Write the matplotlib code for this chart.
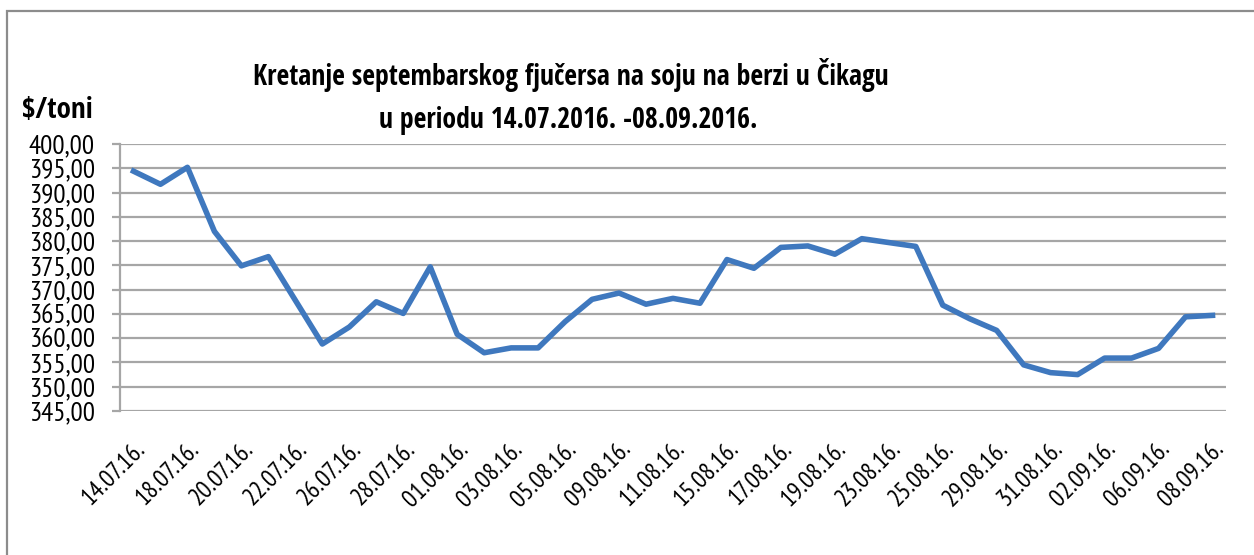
import matplotlib
matplotlib.use("Agg")
import matplotlib.pyplot as plt
from matplotlib.patches import Rectangle

dates = ["14.07.16.", "15.07.16.", "18.07.16.", "19.07.16.", "20.07.16.", "21.07.16.",
         "22.07.16.", "25.07.16.", "26.07.16.", "27.07.16.", "28.07.16.", "29.07.16.",
         "01.08.16.", "02.08.16.", "03.08.16.", "04.08.16.", "05.08.16.", "08.08.16.",
         "09.08.16.", "10.08.16.", "11.08.16.", "12.08.16.", "15.08.16.", "16.08.16.",
         "17.08.16.", "18.08.16.", "19.08.16.", "22.08.16.", "23.08.16.", "24.08.16.",
         "25.08.16.", "26.08.16.", "29.08.16.", "30.08.16.", "31.08.16.", "01.09.16.",
         "02.09.16.", "05.09.16.", "06.09.16.", "07.09.16.", "08.09.16."]
prices = [394.4, 391.7, 395.2, 382.0, 374.9, 376.8, 367.8, 358.8, 362.3, 367.5,
          365.1, 374.7, 360.8, 357.0, 358.0, 358.0, 363.4, 368.0, 369.3, 367.0,
          368.2, 367.2, 376.2, 374.4, 378.7, 379.0, 377.3, 380.5, 379.7, 378.9,
          366.8, 364.0, 361.6, 354.5, 352.9, 352.5, 355.9, 355.9, 357.9, 364.4, 364.7]
yticks = [345, 350, 355, 360, 365, 370, 375, 380, 385, 390, 395, 400]
title_lines = ["Kretanje septembarskog fjučersa na soju na berzi u Čikagu",
               "u periodu 14.07.2016. -08.09.2016."]
unit_label = "$/toni"

REG = ["PT Sans Narrow", "Carlito", "DejaVu Sans"]
BOLD = ["Open Sans Condensed", "PT Sans Narrow", "DejaVu Sans"]
W, H = 1254, 555
fig = plt.figure(figsize=(W / 100, H / 100), dpi=100)
ax = fig.add_axes([120 / W, 1 - 411 / H, (1226 - 120) / W, (411 - 144) / H])

grid_c = "#A6A6A6"
x = list(range(len(prices)))
ax.plot(x, prices, color="#3F78BE", lw=4.0, solid_joinstyle="round", zorder=3)
ax.set_xlim(-0.5, len(prices) - 0.5)
ax.set_ylim(345, 400)
ax.set_yticks(yticks)
ax.set_yticklabels([f"{v:.2f}".replace(".", ",") for v in yticks],
                   family=REG, fontsize=19.5)
ax.yaxis.grid(True, color=grid_c, lw=1.6, zorder=1)
ax.tick_params(axis="y", length=6, width=1.6, color=grid_c, pad=12)
ax.set_xticks(x[::2])
ax.set_xticklabels(dates[::2], rotation=45, ha="right", rotation_mode="anchor",
                   family=REG, fontsize=18)
ax.tick_params(axis="x", length=0, pad=19)
for s in ["top", "right", "bottom"]:
    ax.spines[s].set_visible(False)
ax.spines["left"].set_color(grid_c)
ax.spines["left"].set_linewidth(1.6)

fig.text(571 / W, 1 - 85 / H, title_lines[0],
         ha="center", va="baseline", fontsize=20, fontweight="bold", family=BOLD)
fig.text(568 / W, 1 - 128 / H, title_lines[1],
         ha="center", va="baseline", fontsize=20, fontweight="bold", family=BOLD)
fig.text(22 / W, 1 - 118 / H, unit_label, ha="left", va="baseline", fontsize=21,
         fontweight="bold", family=BOLD)

fig.patches.append(Rectangle((7 / W, -0.1), 1.2, 1 - 11 / H + 0.1, transform=fig.transFigure,
                             fill=False, ec="#8C8C8C", lw=1.6))

fig.savefig("out.png", dpi=100)
